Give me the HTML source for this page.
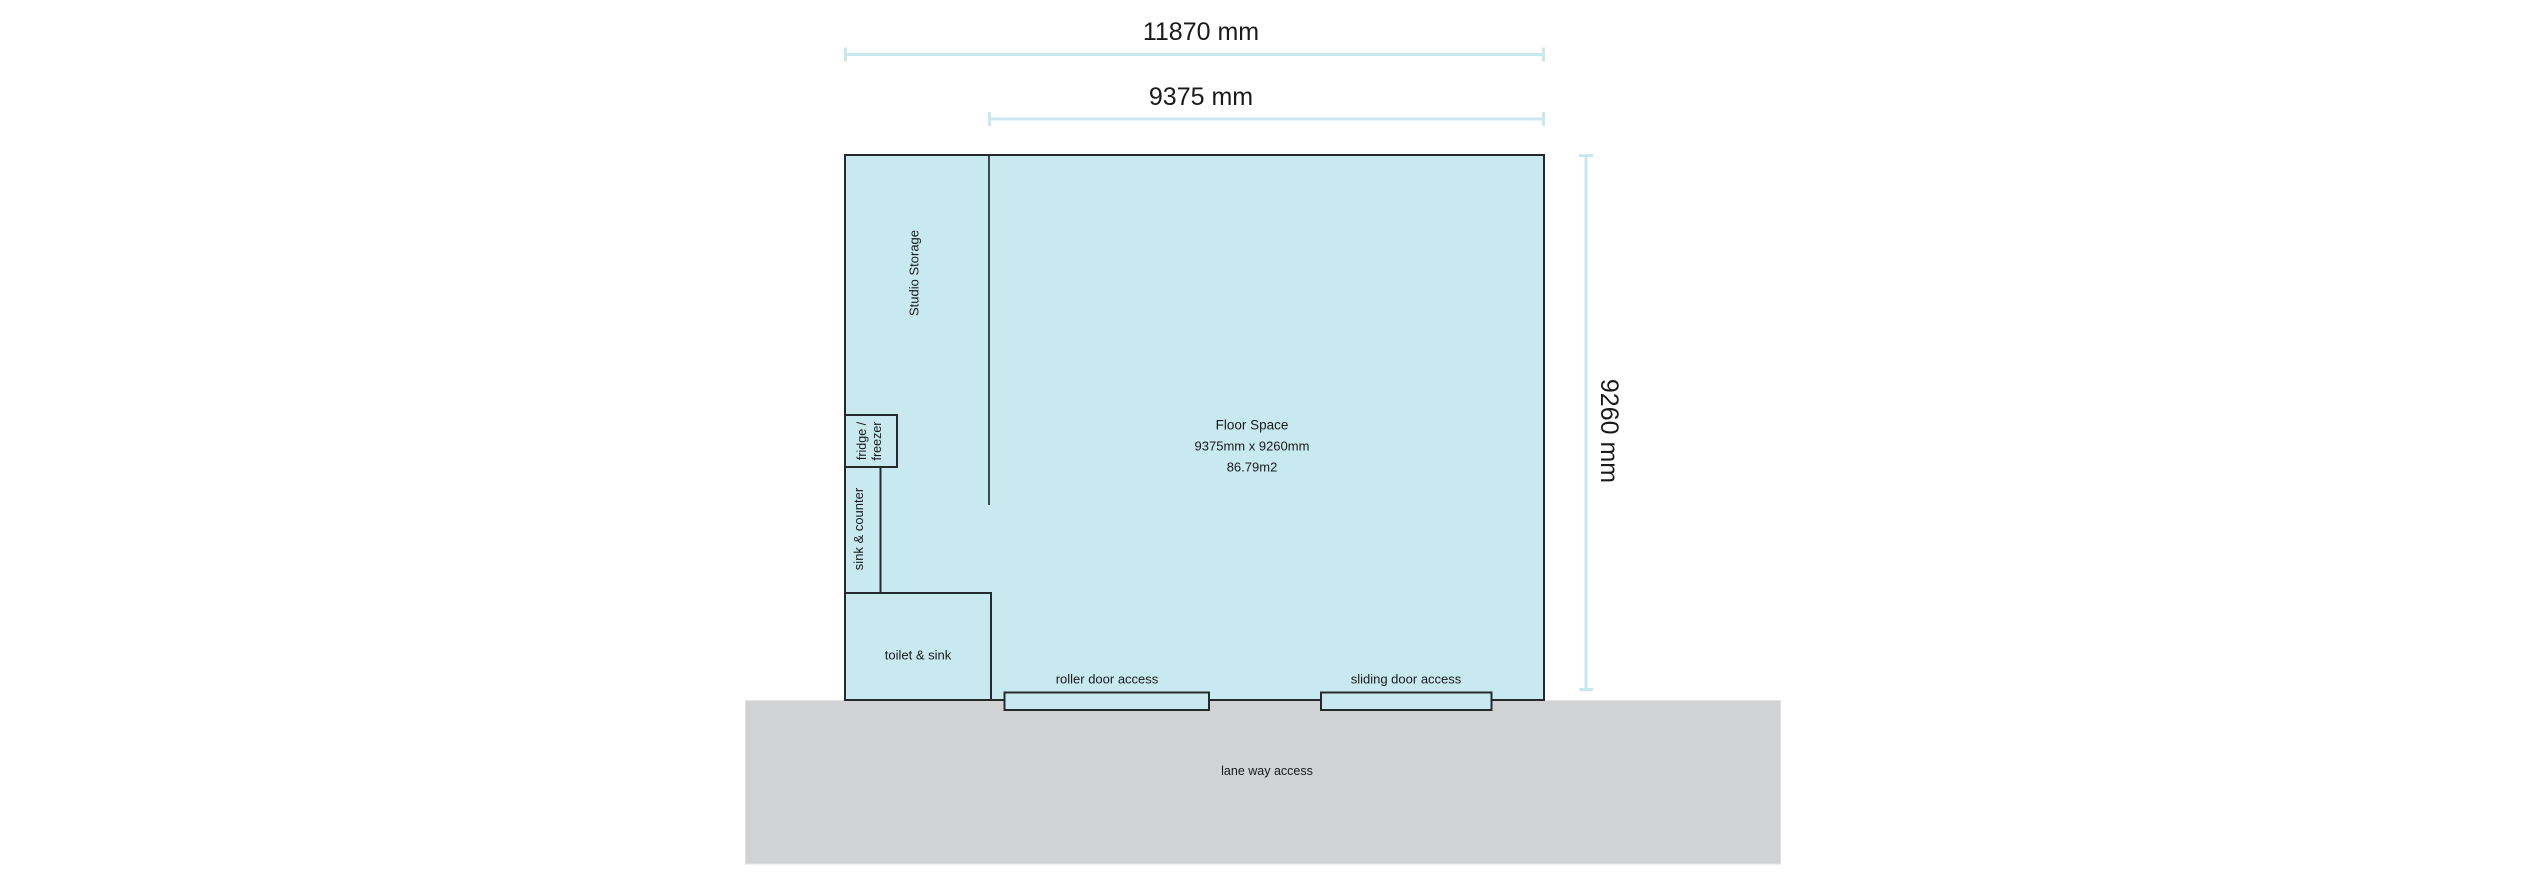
<!DOCTYPE html>
<html>
<head>
<meta charset="utf-8">
<style>
  html, body { margin:0; padding:0; background:#ffffff; }
  body { width:2526px; height:880px; overflow:hidden; }
  svg { display:block; }
  text { font-family: "Liberation Sans", "DejaVu Sans", sans-serif; fill:#1a1a1a; }
</style>
</head>
<body>
<svg width="2526" height="880" viewBox="0 0 2526 880" xmlns="http://www.w3.org/2000/svg">
  <!-- lane way -->
  <rect x="745.5" y="700.5" width="1035" height="163.5" fill="#d1d2d4" stroke="#e2e2e3" stroke-width="1"/>
  <text x="1267" y="771" font-size="12.5" text-anchor="middle" dominant-baseline="central">lane way access</text>

  <!-- main floor box -->
  <rect x="845" y="155" width="699" height="545" fill="#c9e9f0" stroke="#252a2c" stroke-width="2"/>

  <!-- studio storage divider -->
  <line x1="989" y1="155" x2="989" y2="505" stroke="#1e2224" stroke-width="1.6"/>

  <!-- fridge -->
  <rect x="845" y="415" width="52" height="52" fill="#c9e9f0" stroke="#252a2c" stroke-width="2"/>
  <!-- sink & counter -->
  <rect x="845" y="467" width="35.5" height="126" fill="#c9e9f0" stroke="#252a2c" stroke-width="2"/>
  <!-- toilet -->
  <rect x="845" y="593" width="146" height="107" fill="#c9e9f0" stroke="#252a2c" stroke-width="2"/>

  <!-- doors -->
  <rect x="1004.5" y="692.5" width="204.5" height="17.5" fill="#c9e9f0" stroke="#252a2c" stroke-width="2"/>
  <rect x="1321" y="692.5" width="170.5" height="17.5" fill="#c9e9f0" stroke="#252a2c" stroke-width="2"/>

  <!-- labels inside -->
  <text transform="translate(914,273) rotate(-90)" font-size="13" text-anchor="middle" dominant-baseline="central">Studio Storage</text>
  <text transform="translate(862,441) rotate(-90)" font-size="12.5" text-anchor="middle" dominant-baseline="central">fridge /</text>
  <text transform="translate(877,441) rotate(-90)" font-size="12.5" text-anchor="middle" dominant-baseline="central">freezer</text>
  <text transform="translate(858.5,529) rotate(-90)" font-size="13" text-anchor="middle" dominant-baseline="central">sink &amp; counter</text>
  <text x="918" y="655" font-size="13" text-anchor="middle" dominant-baseline="central">toilet &amp; sink</text>
  <text x="1107" y="679" font-size="13" text-anchor="middle" dominant-baseline="central">roller door access</text>
  <text x="1406" y="679" font-size="13" text-anchor="middle" dominant-baseline="central">sliding door access</text>

  <text x="1252" y="425" font-size="13.5" text-anchor="middle" dominant-baseline="central">Floor Space</text>
  <text x="1252" y="446" font-size="13" text-anchor="middle" dominant-baseline="central">9375mm x 9260mm</text>
  <text x="1252" y="467" font-size="13" text-anchor="middle" dominant-baseline="central">86.79m2</text>

  <!-- dimension lines -->
  <g stroke="#c8e8ef" stroke-width="3" fill="none">
    <line x1="845" y1="54.5" x2="1544" y2="54.5"/>
    <line x1="845.5" y1="47.5" x2="845.5" y2="61.5"/>
    <line x1="1543.5" y1="47.5" x2="1543.5" y2="61.5"/>

    <line x1="989" y1="119" x2="1544" y2="119"/>
    <line x1="989.5" y1="112" x2="989.5" y2="126"/>
    <line x1="1543.5" y1="112" x2="1543.5" y2="126"/>

    <line x1="1586" y1="155" x2="1586" y2="690"/>
    <line x1="1579" y1="155.5" x2="1593" y2="155.5"/>
    <line x1="1579" y1="689.5" x2="1593" y2="689.5"/>
  </g>

  <text x="1201" y="40" font-size="25" text-anchor="middle">11870 mm</text>
  <text x="1201" y="105" font-size="25" text-anchor="middle">9375 mm</text>
  <text transform="translate(1609,431) rotate(90)" font-size="25" text-anchor="middle" dominant-baseline="central">9260 mm</text>
</svg>
</body>
</html>
